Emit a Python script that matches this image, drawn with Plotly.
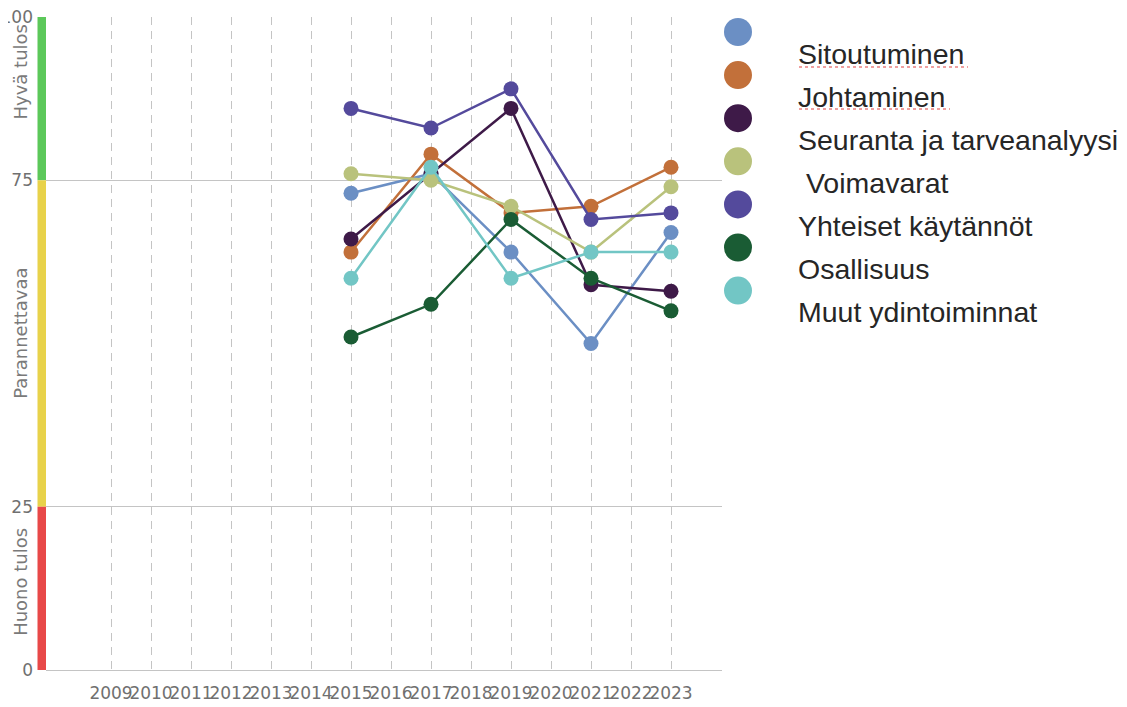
import plotly.graph_objects as go

years = [2015, 2017, 2019, 2021, 2023]
tick_years = list(range(2009, 2024))

series_names = ["Sitoutuminen", "Johtaminen", "Seuranta ja tarveanalyysi", " Voimavarat",
                "Yhteiset käytännöt", "Osallisuus", "Muut ydintoiminnat"]
sitoutuminen = [73, 76, 64, 50, 67]
johtaminen = [64, 79, 70, 71, 77]
seuranta = [66, 76, 86, 59, 58]
voimavarat = [76, 75, 71, 64, 74]
yhteiset = [86, 83, 89, 69, 70]
osallisuus = [51, 56, 69, 60, 55]
muut = [60, 77, 60, 64, 64]
series_values = [sitoutuminen, johtaminen, seuranta, voimavarat, yhteiset, osallisuus, muut]
colors = ["#6b8fc4", "#c2703a", "#3e1a48", "#b9c27c", "#544a9c", "#1a5c34", "#72c6c5"]

y_tickvals = [0, 25, 75, 100]
y_ticktext = ["0", "25", "75", "100"]
bands = [(75, 100, "#5cc85a", "Hyvä tulos", 91.5),
         (25, 75, "#e8d24a", "Parannettavaa", 51.5),
         (0, 25, "#e84848", "Huono tulos", 13.5)]

# layout geometry (page pixels; the page body adds an 8px offset)
OFF = 8
W, H = 1127 - OFF, 707 - OFF
L, R, T, B = 46, 722, 17, 670          # plot area in page pixels
pw, ph = R - L, B - T

def px(x):
    return (x - L) / pw

def py(y):
    return (B - y) / ph

fig = go.Figure()
for name, vals, col in zip(series_names, series_values, colors):
    fig.add_trace(go.Scatter(
        x=years, y=vals, name=name, mode="lines+markers",
        line=dict(color=col, width=2.5),
        marker=dict(color=col, size=15),
        showlegend=False,
    ))

shapes = []
annotations = []
for y0, y1, col, label, ly in bands:
    shapes.append(dict(type="rect", xref="paper", yref="y", x0=px(37.5), x1=0, y0=y0, y1=y1,
                       fillcolor=col, line=dict(width=0), layer="above"))
    annotations.append(dict(text=label, xref="paper", yref="y", x=px(21), y=ly,
                            textangle=-90, showarrow=False, xanchor="center", yanchor="middle",
                            font=dict(family="DejaVu Sans", size=18, color="#7a7a7a")))

# custom legend
for i, (name, col) in enumerate(zip(series_names, colors)):
    cy = 32 + i * 43.1
    shapes.append(dict(type="circle", xref="paper", yref="paper",
                       xsizemode="pixel", ysizemode="pixel",
                       xanchor=px(738), yanchor=py(cy), x0=-14, x1=14, y0=-14, y1=14,
                       fillcolor=col, line=dict(width=0)))
    annotations.append(dict(text=name, xref="paper", yref="paper", x=px(796), y=py(cy + 21.5),
                            xanchor="left", yanchor="middle", showarrow=False,
                            font=dict(family="Liberation Sans, Arial", size=28.5, color="#262626")))

# spellcheck underlines
for y_u, x_end in [(67, 968), (109, 950)]:
    shapes.append(dict(type="line", xref="paper", yref="paper", x0=px(799), x1=px(x_end),
                       y0=py(y_u), y1=py(y_u), line=dict(color="#e04040", width=1.2, dash="dot")))

fig.update_layout(
    width=W, height=H,
    margin=dict(l=L - OFF, r=(W + OFF) - R, t=T - OFF, b=(H + OFF) - B, autoexpand=False),
    paper_bgcolor="white", plot_bgcolor="white",
    shapes=shapes, annotations=annotations,
    xaxis=dict(range=[2007.375, 2024.275], tickvals=tick_years,
               ticktext=[str(y) for y in tick_years], tickangle=0, automargin=False,
               showgrid=True, gridcolor="#c4c4c4", gridwidth=1, griddash="8px,6px",
               zeroline=False, showline=True, linecolor="#c4c4c4", linewidth=1,
               tickfont=dict(family="DejaVu Sans", size=17, color="#707070"),
               ticks="", ticklabelstandoff=8, ticklabeloverflow="allow"),
    yaxis=dict(range=[0, 100], tickvals=y_tickvals, ticktext=y_ticktext, automargin=False,
               showgrid=True, gridcolor="#c4c4c4", gridwidth=1, zeroline=False,
               showline=False, ticks="",
               tickfont=dict(family="DejaVu Sans", size=17, color="#707070"),
               ticklabelstandoff=12, ticklabeloverflow="allow"),
)

fig.write_html("out.html")
